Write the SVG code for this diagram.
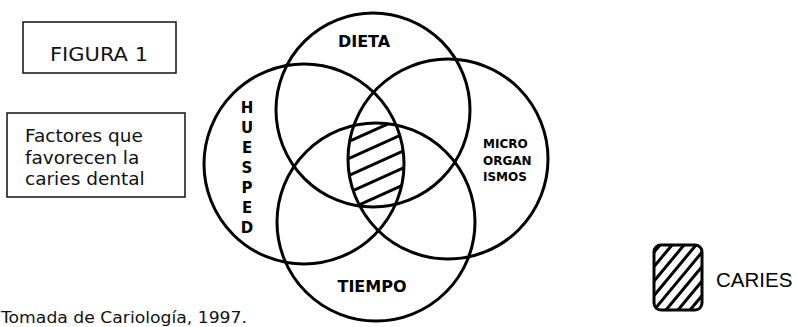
<svg xmlns="http://www.w3.org/2000/svg" width="797" height="327" viewBox="0 0 797 327">
<style>
.ring{fill:none;stroke:#000;stroke-width:3}
.box{fill:none;stroke:#111;stroke-width:1.5}
.hatch{stroke:#000;stroke-width:3;fill:none}
.t{font-family:"DejaVu Sans",Verdana,sans-serif;fill:#111}
.b{font-family:"DejaVu Sans",Verdana,sans-serif;font-weight:bold;fill:#000}
.a{font-family:"Liberation Sans",Arial,sans-serif;fill:#000}
</style>
<defs>
<clipPath id="cT"><circle cx="373" cy="110" r="97"/></clipPath>
<clipPath id="cL"><circle cx="304" cy="164" r="100"/></clipPath>
<clipPath id="cR"><circle cx="448" cy="159" r="100"/></clipPath>
<clipPath id="cB"><circle cx="376" cy="222" r="99"/></clipPath>
<clipPath id="cLeg"><rect x="654" y="245" width="48" height="65" rx="7"/></clipPath>
</defs>
<g id="figura-box">
<rect class="box" x="23" y="22" width="153" height="51"/>
<text class="t" x="50" y="61" font-size="20" textLength="98" lengthAdjust="spacingAndGlyphs">FIGURA 1</text>
</g>
<g id="factores-box">
<rect class="box" x="7" y="113" width="178" height="84"/>
<text class="t" x="25" y="142" font-size="18.5">Factores que</text>
<text class="t" x="25" y="164" font-size="18.5">favorecen la</text>
<text class="t" x="25" y="185" font-size="18.5">caries dental</text>
</g>
<g id="caries-region">
<g clip-path="url(#cT)"><g clip-path="url(#cL)"><g clip-path="url(#cR)"><g clip-path="url(#cB)">
<path class="hatch" d="M330 150 L430 105 M330 167 L430 122 M330 184 L430 139 M330 201 L430 156 M330 218 L430 173"/>
</g></g></g></g>
</g>
<g id="connectors">
<circle id="dieta" class="ring" cx="373" cy="110" r="97"/>
<circle id="huesped" class="ring" cx="304" cy="164" r="100"/>
<circle id="microorganismos" class="ring" cx="448" cy="159" r="100"/>
<circle id="tiempo" class="ring" cx="376" cy="222" r="99"/>
</g>
<g id="labels">
<text class="b" x="364" y="47" font-size="16" text-anchor="middle">DIETA</text>
<text class="b" x="372" y="292" font-size="16" text-anchor="middle">TIEMPO</text>
<text class="b" x="483" y="148" font-size="12">MICRO</text>
<text class="b" x="483" y="165" font-size="12">ORGAN</text>
<text class="b" x="483" y="181" font-size="12">ISMOS</text>
<g class="b" font-size="15" text-anchor="middle">
<text x="247" y="113">H</text>
<text x="247" y="133">U</text>
<text x="247" y="153">E</text>
<text x="247" y="173">S</text>
<text x="247" y="193">P</text>
<text x="247" y="213">E</text>
<text x="247" y="233">D</text>
</g>
</g>
<g id="legend">
<g clip-path="url(#cLeg)">
<path class="hatch" stroke-width="2.5" d="M606 310 L660 245 M618 310 L672 245 M630 310 L684 245 M642 310 L696 245 M654 310 L708 245 M666 310 L720 245 M678 310 L732 245 M690 310 L744 245"/>
</g>
<rect x="654" y="245" width="48" height="65" rx="7" fill="none" stroke="#000" stroke-width="3"/>
<text class="a" x="716" y="287" font-size="20.5">CARIES</text>
</g>
<text class="t" x="1" y="323" font-size="16.5" textLength="246" lengthAdjust="spacingAndGlyphs">Tomada de Cariología, 1997.</text>
</svg>
